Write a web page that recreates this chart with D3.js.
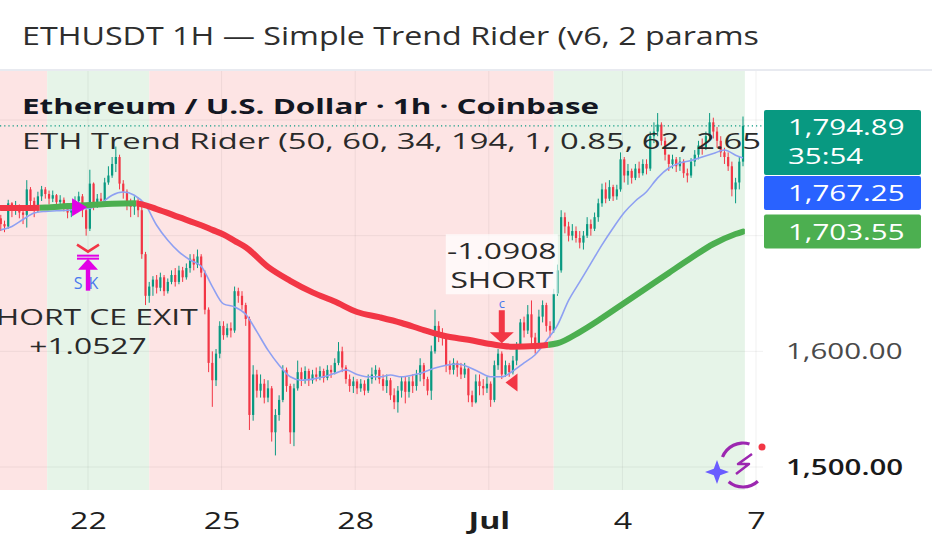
<!DOCTYPE html>
<html>
<head>
<meta charset="utf-8">
<script src="https://cdn.jsdelivr.net/npm/d3@7"></script>
<style>
  body { margin: 0; background: #ffffff; }
  svg { display: block; font-family: "Open Sans", "Noto Sans", sans-serif; }
</style>
</head>
<body>
<div id="chart"></div>
<script>
// ---- data (2h candles) ----
const startMs = Date.UTC(2025, 5, 20, 0);
const barHours = 2;
const firstOpen = 1715;

const closes = [
  1710,1708,1728,1722,1726,1720,1718,1740,1730,1724,
  1734,1740,1736,1732,1735,1729,1731,1726,1720,1725,
  1730,1734,1722,1706,1745,1728,1732,1730,1746,1752,
  1762,1768,1745,1738,1728,1725,1730,1722,1684,1648,
  1656,1662,1655,1664,1652,1660,1666,1660,1670,1664,
  1672,1680,1675,1682,1668,1636,1590,1575,1598,1622,
  1614,1620,1618,1652,1648,1640,1628,1545,1580,1566,
  1572,1560,1568,1530,1545,1558,1584,1570,1530,1568,
  1582,1576,1583,1575,1580,1578,1583,1577,1584,1582,
  1590,1600,1586,1576,1570,1574,1568,1572,1566,1576,
  1580,1584,1576,1570,1575,1562,1556,1566,1574,1565,
  1574,1570,1580,1588,1576,1566,1600,1622,1614,1612,
  1588,1584,1590,1586,1580,1585,1562,1556,1574,1570,
  1568,1572,1558,1588,1598,1580,1588,1582,1592,1604,
  1625,1618,1632,1612,1604,1630,1640,1622,1618,1650,
  1670,1716,1708,1700,1704,1698,1694,1700,1710,1706,
  1716,1728,1740,1732,1742,1734,1740,1766,1752,1756,
  1750,1758,1754,1762,1758,1786,1790,1796,1782,1770,
  1762,1766,1760,1764,1754,1752,1764,1770,1778,1776,
  1786,1798,1790,1782,1772,1768,1760,1740,1746,1764,1794.89
];
const highs = [
  1718,1713,1731,1729,1730,1727,1724,1748,1742,1733,
  1738,1743,1742,1739,1739,1736,1735,1733,1728,1728,
  1734,1738,1736,1724,1757,1746,1736,1737,1750,1760,
  1768,1777,1770,1748,1740,1732,1734,1733,1726,1686,
  1660,1665,1666,1668,1666,1663,1670,1672,1674,1673,
  1676,1684,1684,1688,1684,1670,1638,1600,1602,1626,
  1626,1624,1625,1656,1655,1652,1642,1630,1588,1584,
  1580,1576,1575,1570,1550,1562,1588,1586,1572,1572,
  1592,1586,1587,1585,1584,1586,1587,1585,1588,1588,
  1594,1608,1604,1588,1580,1578,1576,1576,1575,1580,
  1586,1588,1586,1580,1580,1577,1568,1570,1578,1578,
  1578,1580,1584,1594,1590,1578,1605,1636,1626,1620,
  1614,1592,1594,1592,1590,1590,1586,1566,1580,1580,
  1576,1578,1574,1592,1602,1600,1592,1590,1596,1608,
  1628,1630,1640,1644,1616,1636,1644,1642,1626,1654,
  1675,1722,1720,1712,1710,1708,1704,1704,1716,1714,
  1720,1732,1745,1746,1748,1744,1744,1772,1768,1762,
  1758,1762,1764,1766,1766,1790,1798,1806,1798,1785,
  1770,1770,1768,1768,1766,1758,1767,1774,1782,1784,
  1790,1806,1802,1794,1786,1776,1772,1764,1750,1768,1803
];
const lows = [
  1704,1703,1706,1716,1718,1715,1710,1707,1722,1716,
  1720,1730,1732,1727,1729,1725,1724,1721,1715,1716,
  1722,1727,1716,1700,1704,1722,1724,1725,1728,1744,
  1750,1755,1740,1732,1722,1716,1718,1716,1680,1640,
  1642,1648,1650,1652,1648,1650,1658,1656,1658,1660,
  1662,1668,1670,1672,1664,1632,1582,1552,1570,1594,
  1610,1612,1612,1616,1642,1636,1622,1532,1540,1560,
  1560,1555,1556,1522,1510,1540,1556,1565,1520,1518,
  1566,1570,1572,1570,1572,1574,1575,1573,1575,1577,
  1580,1588,1582,1572,1565,1564,1563,1565,1562,1564,
  1572,1575,1572,1566,1564,1558,1550,1547,1560,1555,
  1560,1564,1566,1574,1570,1562,1558,1598,1608,1605,
  1582,1580,1580,1578,1576,1577,1556,1552,1555,1562,
  1562,1564,1552,1556,1584,1576,1578,1578,1580,1588,
  1602,1612,1615,1606,1598,1602,1625,1617,1612,1616,
  1648,1668,1702,1695,1696,1694,1689,1688,1698,1700,
  1704,1712,1725,1728,1730,1730,1731,1738,1746,1744,
  1745,1748,1750,1752,1753,1756,1780,1786,1778,1765,
  1756,1758,1755,1756,1750,1746,1750,1760,1766,1770,
  1774,1782,1784,1776,1768,1762,1756,1734,1728,1740,1760
];

// slow trend line (thick, red/green), sampled at bar indices
const trendBars = [0,6,12,18,24,30,36,42,48,54,57,60,63,66,72,78,84,90,96,102,108,114,120,126,132,138,144,150,156,162,168,174,180,186,192,198,200];
const trendVals = [1724,1724,1724.3,1725.6,1726.5,1727.7,1728,1723,1716,1709,1705,1701,1695.5,1690,1673,1661,1651,1643,1634,1629.5,1624.5,1618.4,1613,1610,1606.3,1604,1604.6,1607,1616.7,1628.8,1641.8,1654.8,1667.8,1680.7,1692.8,1701.4,1703.55];
// colour changes of the trend line (hours from start) and direction
const trendHours = [0, 22, 74, 296, 402];
const trendDirs = ["down", "up", "down", "up"];

// fast line (thin blue)
const fastBars = [0,3,6,9,12,15,18,21,24,27,30,33,36,39,42,45,48,51,54,57,60,63,66,69,72,75,78,81,84,87,90,93,96,99,102,105,108,111,114,117,120,123,126,129,132,135,138,141,144,147,150,153,156,159,162,165,168,171,174,177,180,183,186,189,192,195,198,200];
const fastVals = [1705,1708,1714,1719.6,1721,1721.5,1722,1723,1723.8,1728,1735,1737.7,1735,1726.5,1709,1696,1686,1679,1673.6,1656,1641,1638.4,1632,1617,1601,1588,1578,1575,1576,1578,1581,1584,1580,1578,1578,1579.5,1578,1579.5,1582,1585.6,1588,1589,1586.5,1582,1578,1578,1583,1590,1597,1609,1622.6,1644,1660,1676,1692,1706.6,1720,1730,1738,1750,1758.5,1762.8,1765,1768,1771,1774,1769.6,1767.25];

// background regimes (hours from start)
const regimeHours = [0, 26, 81, 299, 402];
const regimeDirs = ["down", "up", "down", "up"];

const xTickDays = [Date.UTC(2025,5,22), Date.UTC(2025,5,25), Date.UTC(2025,5,28), Date.UTC(2025,6,1), Date.UTC(2025,6,4), Date.UTC(2025,6,7)];
const xTickLabels = ["22", "25", "28", "Jul", "4", "7"];
const yGrid = [1500, 1600, 1700, 1800];
const yTickLabels = [1500, 1600];
const countdown = "35:54";

const exitSignal = { hour: 47.5, price: 1724.5 };
const exitOrder = { hour: 48, price: 1700, tag: "SK", lines: ["SHORT CE EXIT", "+1.0527"] };
const entryOrder = { hour: 271, price: 1607, tag: "c", lines: ["-1.0908", "SHORT"] };
const entrySignal = { hour: 273, price: 1573 };

// ---- layout ----
const W = 932, H = 550;
const plot = { left: 0, right: 763, top: 71, bottom: 490 };
const UP = "#089981", DOWN = "#f23645";
const K = 1.34; // horizontal text stretch of the picture

const hourTime = (h) => new Date(startMs + h * 3600e3);
const barTime = (i) => hourTime(i * barHours + barHours / 2);

const x = d3.scaleUtc()
  .domain([new Date(xTickDays[0]), new Date(xTickDays[5])])
  .range([88, 756]);
const y = d3.scaleLinear().domain([1500, 1800]).range([467, 120]);

const svg = d3.select("#chart").append("svg")
  .attr("width", W).attr("height", H);

function stretch(sel, k) {
  sel.each(function () {
    const w = this.getComputedTextLength();
    d3.select(this).attr("textLength", w * k).attr("lengthAdjust", "spacingAndGlyphs");
  });
}

// two-line order label
function multiLabel(parent, cx, baseY, lines, lineH, size) {
  lines.forEach((s, i) => {
    parent.append("text")
      .attr("x", cx).attr("y", baseY + i * lineH)
      .attr("text-anchor", "middle").attr("font-size", size).attr("fill", "#2a2a2a")
      .text(s)
      .call(stretch, K * 1.13);
  });
}

// title
svg.append("text")
  .attr("x", 22).attr("y", 45)
  .attr("font-size", 25).attr("fill", "#2e2e2e")
  .text("ETHUSDT 1H \u2014 Simple Trend Rider (v6, 2 params")
  .attr("textLength", 737).attr("lengthAdjust", "spacingAndGlyphs");

svg.append("line")
  .attr("x1", 0).attr("x2", W).attr("y1", 70).attr("y2", 70)
  .attr("stroke", "#e0e3eb").attr("stroke-width", 1.5);

const defs = svg.append("defs");
defs.append("clipPath").attr("id", "plotclip")
  .append("rect")
  .attr("x", plot.left).attr("y", plot.top)
  .attr("width", plot.right - plot.left).attr("height", plot.bottom - plot.top);

const g = svg.append("g").attr("clip-path", "url(#plotclip)");

// regime backgrounds
g.selectAll(".regime")
  .data(regimeDirs)
  .enter().append("rect")
  .attr("class", "regime")
  .attr("x", (d, i) => x(hourTime(regimeHours[i])))
  .attr("width", (d, i) => x(hourTime(regimeHours[i + 1])) - x(hourTime(regimeHours[i])))
  .attr("y", plot.top).attr("height", plot.bottom - plot.top)
  .attr("fill", (d) => d === "up" ? "#e6f4e8" : "#fde4e4");

// grid
g.selectAll(".vgrid")
  .data(xTickDays)
  .enter().append("line")
  .attr("x1", (d) => x(new Date(d))).attr("x2", (d) => x(new Date(d)))
  .attr("y1", plot.top).attr("y2", plot.bottom)
  .attr("stroke", "#000").attr("stroke-opacity", 0.06);
g.selectAll(".hgrid")
  .data(yGrid)
  .enter().append("line")
  .attr("x1", plot.left).attr("x2", plot.right)
  .attr("y1", (d) => y(d)).attr("y2", (d) => y(d))
  .attr("stroke", "#000").attr("stroke-opacity", 0.06);

// candles
const candles = closes.map((c, i) => ({
  t: barTime(i),
  o: i === 0 ? firstOpen : closes[i - 1],
  h: highs[i], l: lows[i], c: c
}));
const bodyW = 2.2;
const cg = g.append("g");
cg.selectAll(".wick")
  .data(candles)
  .enter().append("line")
  .attr("x1", (d) => x(d.t)).attr("x2", (d) => x(d.t))
  .attr("y1", (d) => y(d.h)).attr("y2", (d) => y(d.l))
  .attr("stroke", (d) => d.c >= d.o ? UP : DOWN)
  .attr("stroke-width", 1);
cg.selectAll(".body")
  .data(candles)
  .enter().append("rect")
  .attr("x", (d) => x(d.t) - bodyW / 2)
  .attr("width", bodyW)
  .attr("y", (d) => y(Math.max(d.o, d.c)))
  .attr("height", (d) => Math.max(1, Math.abs(y(d.o) - y(d.c))))
  .attr("fill", (d) => d.c >= d.o ? UP : DOWN);

// fast blue line
const fastLine = d3.line()
  .x((d) => x(barTime(d[0]))).y((d) => y(d[1]))
  .curve(d3.curveMonotoneX);
g.append("path")
  .datum(fastBars.map((b, i) => [b, fastVals[i]]))
  .attr("d", fastLine)
  .attr("fill", "none").attr("stroke", "#8ea0f2").attr("stroke-width", 1.6);

// thick trend line, coloured per direction
const trendLine = d3.line()
  .x((d) => x(barTime(d[0]))).y((d) => y(d[1]))
  .curve(d3.curveMonotoneX);
const trendData = trendBars.map((b, i) => [b, trendVals[i]]);
trendDirs.forEach((dir, i) => {
  const id = "tclip" + i;
  defs.append("clipPath").attr("id", id)
    .append("rect")
    .attr("x", x(hourTime(trendHours[i])))
    .attr("width", x(hourTime(trendHours[i + 1])) - x(hourTime(trendHours[i])))
    .attr("y", plot.top).attr("height", plot.bottom - plot.top);
  g.append("path")
    .datum(trendData)
    .attr("clip-path", "url(#" + id + ")")
    .attr("d", trendLine)
    .attr("fill", "none")
    .attr("stroke", dir === "up" ? "#4caf50" : "#f23645")
    .attr("stroke-width", 6).attr("stroke-linecap", "round");
});

// last price dotted line
const lastClose = closes[closes.length - 1];
g.append("line")
  .attr("x1", plot.left).attr("x2", plot.right)
  .attr("y1", y(lastClose)).attr("y2", y(lastClose))
  .attr("stroke", UP).attr("stroke-width", 1.2).attr("stroke-dasharray", "1.2,3");

// ---- signal markers ----
const mg = svg.append("g");
// magenta exit triangle (pointing right)
{
  const tx = x(hourTime(exitSignal.hour)), ty = y(exitSignal.price);
  mg.append("path")
    .attr("d", `M${tx},${ty} L${tx - 15},${ty - 9} L${tx - 15},${ty + 9} Z`)
    .attr("fill", "#e100e6");
}
// exit order: red chevron, magenta arrow, tag and label
{
  const ox = x(hourTime(exitOrder.hour)), oy = y(exitOrder.price);
  mg.append("path")
    .attr("d", `M${ox - 11},${oy + 9} L${ox},${oy + 16} L${ox + 11},${oy + 9}`)
    .attr("fill", "none").attr("stroke", "#f23645").attr("stroke-width", 2.5);
  mg.append("text")
    .attr("x", ox + 1).attr("y", oy + 53)
    .attr("text-anchor", "middle").attr("font-size", 16)
    .attr("letter-spacing", 6).attr("fill", "#4a78ee")
    .text(exitOrder.tag);
  [20, 23].forEach((dy) => {
    mg.append("line")
      .attr("x1", ox - 11).attr("x2", ox + 11)
      .attr("y1", oy + dy).attr("y2", oy + dy)
      .attr("stroke", "#e100e6").attr("stroke-width", 2);
  });
  mg.append("path")
    .attr("d", `M${ox},${oy + 23} L${ox - 10},${oy + 34} L${ox + 10},${oy + 34} Z`)
    .attr("fill", "#e100e6");
  mg.append("rect")
    .attr("x", ox - 2.2).attr("y", oy + 33).attr("width", 4.4).attr("height", 22)
    .attr("fill", "#e100e6");
  multiLabel(mg, ox, oy + 89, exitOrder.lines, 29, 21);
}
// entry order: label box, tag, red arrow down
{
  const ex = x(hourTime(entryOrder.hour)), ey = y(entryOrder.price);
  mg.append("rect")
    .attr("x", ex - 56).attr("y", ey - 109).attr("width", 112).attr("height", 60)
    .attr("fill", "#ffffff").attr("fill-opacity", 0.75);
  multiLabel(mg, ex, ey - 84, entryOrder.lines, 29, 21);
  mg.append("text")
    .attr("x", ex).attr("y", ey - 35)
    .attr("text-anchor", "middle").attr("font-size", 13).attr("fill", "#4a78ee")
    .text(entryOrder.tag);
  mg.append("rect")
    .attr("x", ex - 3).attr("y", ey - 33).attr("width", 6).attr("height", 23)
    .attr("fill", "#f23645");
  mg.append("path")
    .attr("d", `M${ex},${ey} L${ex - 12},${ey - 11} L${ex + 12},${ey - 11} Z`)
    .attr("fill", "#f23645");
}
// red entry triangle (pointing left)
{
  const sx = x(hourTime(entrySignal.hour)), sy = y(entrySignal.price);
  mg.append("path")
    .attr("d", `M${sx},${sy} L${sx + 12},${sy - 9} L${sx + 12},${sy + 9} Z`)
    .attr("fill", "#f23645");
}

// ---- legend texts ----
svg.append("text")
  .attr("x", 22).attr("y", 114)
  .attr("font-size", 22).attr("font-weight", 700).attr("fill", "#131722")
  .text("Ethereum / U.S. Dollar \u00b7 1h \u00b7 Coinbase")
  .attr("textLength", 577).attr("lengthAdjust", "spacingAndGlyphs");
svg.append("g").attr("clip-path", "url(#plotclip)")
  .append("text")
  .attr("x", 22).attr("y", 149)
  .attr("font-size", 22).attr("fill", "#2a2a2a")
  .text("ETH Trend Rider (50, 60, 34, 194, 1, 0.85, 62, 2.65")
  .attr("textLength", 739).attr("lengthAdjust", "spacingAndGlyphs");

// ---- axes ----
const xAxis = svg.append("g")
  .attr("transform", `translate(0,${plot.bottom})`)
  .call(d3.axisBottom(x)
    .tickValues(xTickDays.map((d) => new Date(d)))
    .tickFormat((d, i) => xTickLabels[i])
    .tickSize(0).tickPadding(22));
xAxis.select(".domain").remove();
xAxis.selectAll("text")
  .attr("font-family", "Open Sans").attr("font-size", 24).attr("fill", "#1e1e1e")
  .attr("font-weight", (d, i) => xTickLabels[i] === "Jul" ? 700 : 400)
  .call(stretch, K);

const yAxis = svg.append("g")
  .attr("transform", `translate(${plot.right},0)`)
  .call(d3.axisRight(y)
    .tickValues(yTickLabels)
    .tickFormat(d3.format(",.2f"))
    .tickSize(0).tickPadding(23));
yAxis.select(".domain").remove();
yAxis.selectAll("text")
  .attr("font-family", "Open Sans").attr("font-size", 22)
  .attr("fill", (d) => d === 1500 ? "#1a1a1a" : "#4a4a4a")
  .attr("font-weight", (d) => d === 1500 ? 600 : 400)
  .call(stretch, K);

// ---- price labels on the right ----
const fmt = d3.format(",.2f");
const priceTags = [
  { v: lastClose, color: "#089981", lines: [fmt(lastClose), countdown] },
  { v: fastVals[fastVals.length - 1], color: "#2962ff", lines: [fmt(fastVals[fastVals.length - 1])] },
  { v: trendVals[trendVals.length - 1], color: "#4caf50", lines: [fmt(trendVals[trendVals.length - 1])] }
];
let prevBottom = -Infinity;
priceTags.sort((a, b) => b.v - a.v).forEach((tag) => {
  const h = tag.lines.length > 1 ? 65 : 34;
  let top = tag.lines.length > 1 ? y(tag.v) - 16 : y(tag.v) - 17;
  if (top < prevBottom + 1) top = prevBottom + 1;
  prevBottom = top + h;
  svg.append("rect")
    .attr("x", 764).attr("y", top).attr("width", 157).attr("height", h)
    .attr("rx", 2).attr("fill", tag.color);
  tag.lines.forEach((t, i) => {
    svg.append("text")
      .attr("x", 788).attr("y", top + 25 + i * 29)
      .attr("font-size", 22).attr("fill", "#ffffff")
      .text(t).call(stretch, K);
  });
});

// ---- corner badge ----
{
  const bx = 743, by = 465, r = 22;
  const badge = svg.append("g");
  const arc = d3.arc().innerRadius(r - 1.6).outerRadius(r + 1.6);
  badge.append("path")
    .attr("transform", `translate(${bx},${by})`)
    .attr("d", arc({ startAngle: -1.2, endAngle: 0.3 }))
    .attr("fill", "#9c27b0");
  badge.append("path")
    .attr("transform", `translate(${bx},${by})`)
    .attr("d", arc({ startAngle: 2.4, endAngle: 3.85 }))
    .attr("fill", "#9c27b0");
  badge.append("path")
    .attr("d", `M${bx + 9},${by - 11} L${bx - 5},${by - 1} L${bx + 6},${by - 1} L${bx - 7},${by + 9}`)
    .attr("fill", "none").attr("stroke", "#9c27b0").attr("stroke-width", 2.5)
    .attr("stroke-linejoin", "round");
  badge.append("circle")
    .attr("cx", bx + 19).attr("cy", by - 18).attr("r", 3.5)
    .attr("fill", "#f23645");
  const sx = 717, sy = 472, R = 12, q = 3.2;
  badge.append("path")
    .attr("d", `M${sx},${sy - R} L${sx + q},${sy - q} L${sx + R},${sy} L${sx + q},${sy + q} L${sx},${sy + R} L${sx - q},${sy + q} L${sx - R},${sy} L${sx - q},${sy - q} Z`)
    .attr("fill", "#6a5cff");
}
</script>
</body>
</html>
